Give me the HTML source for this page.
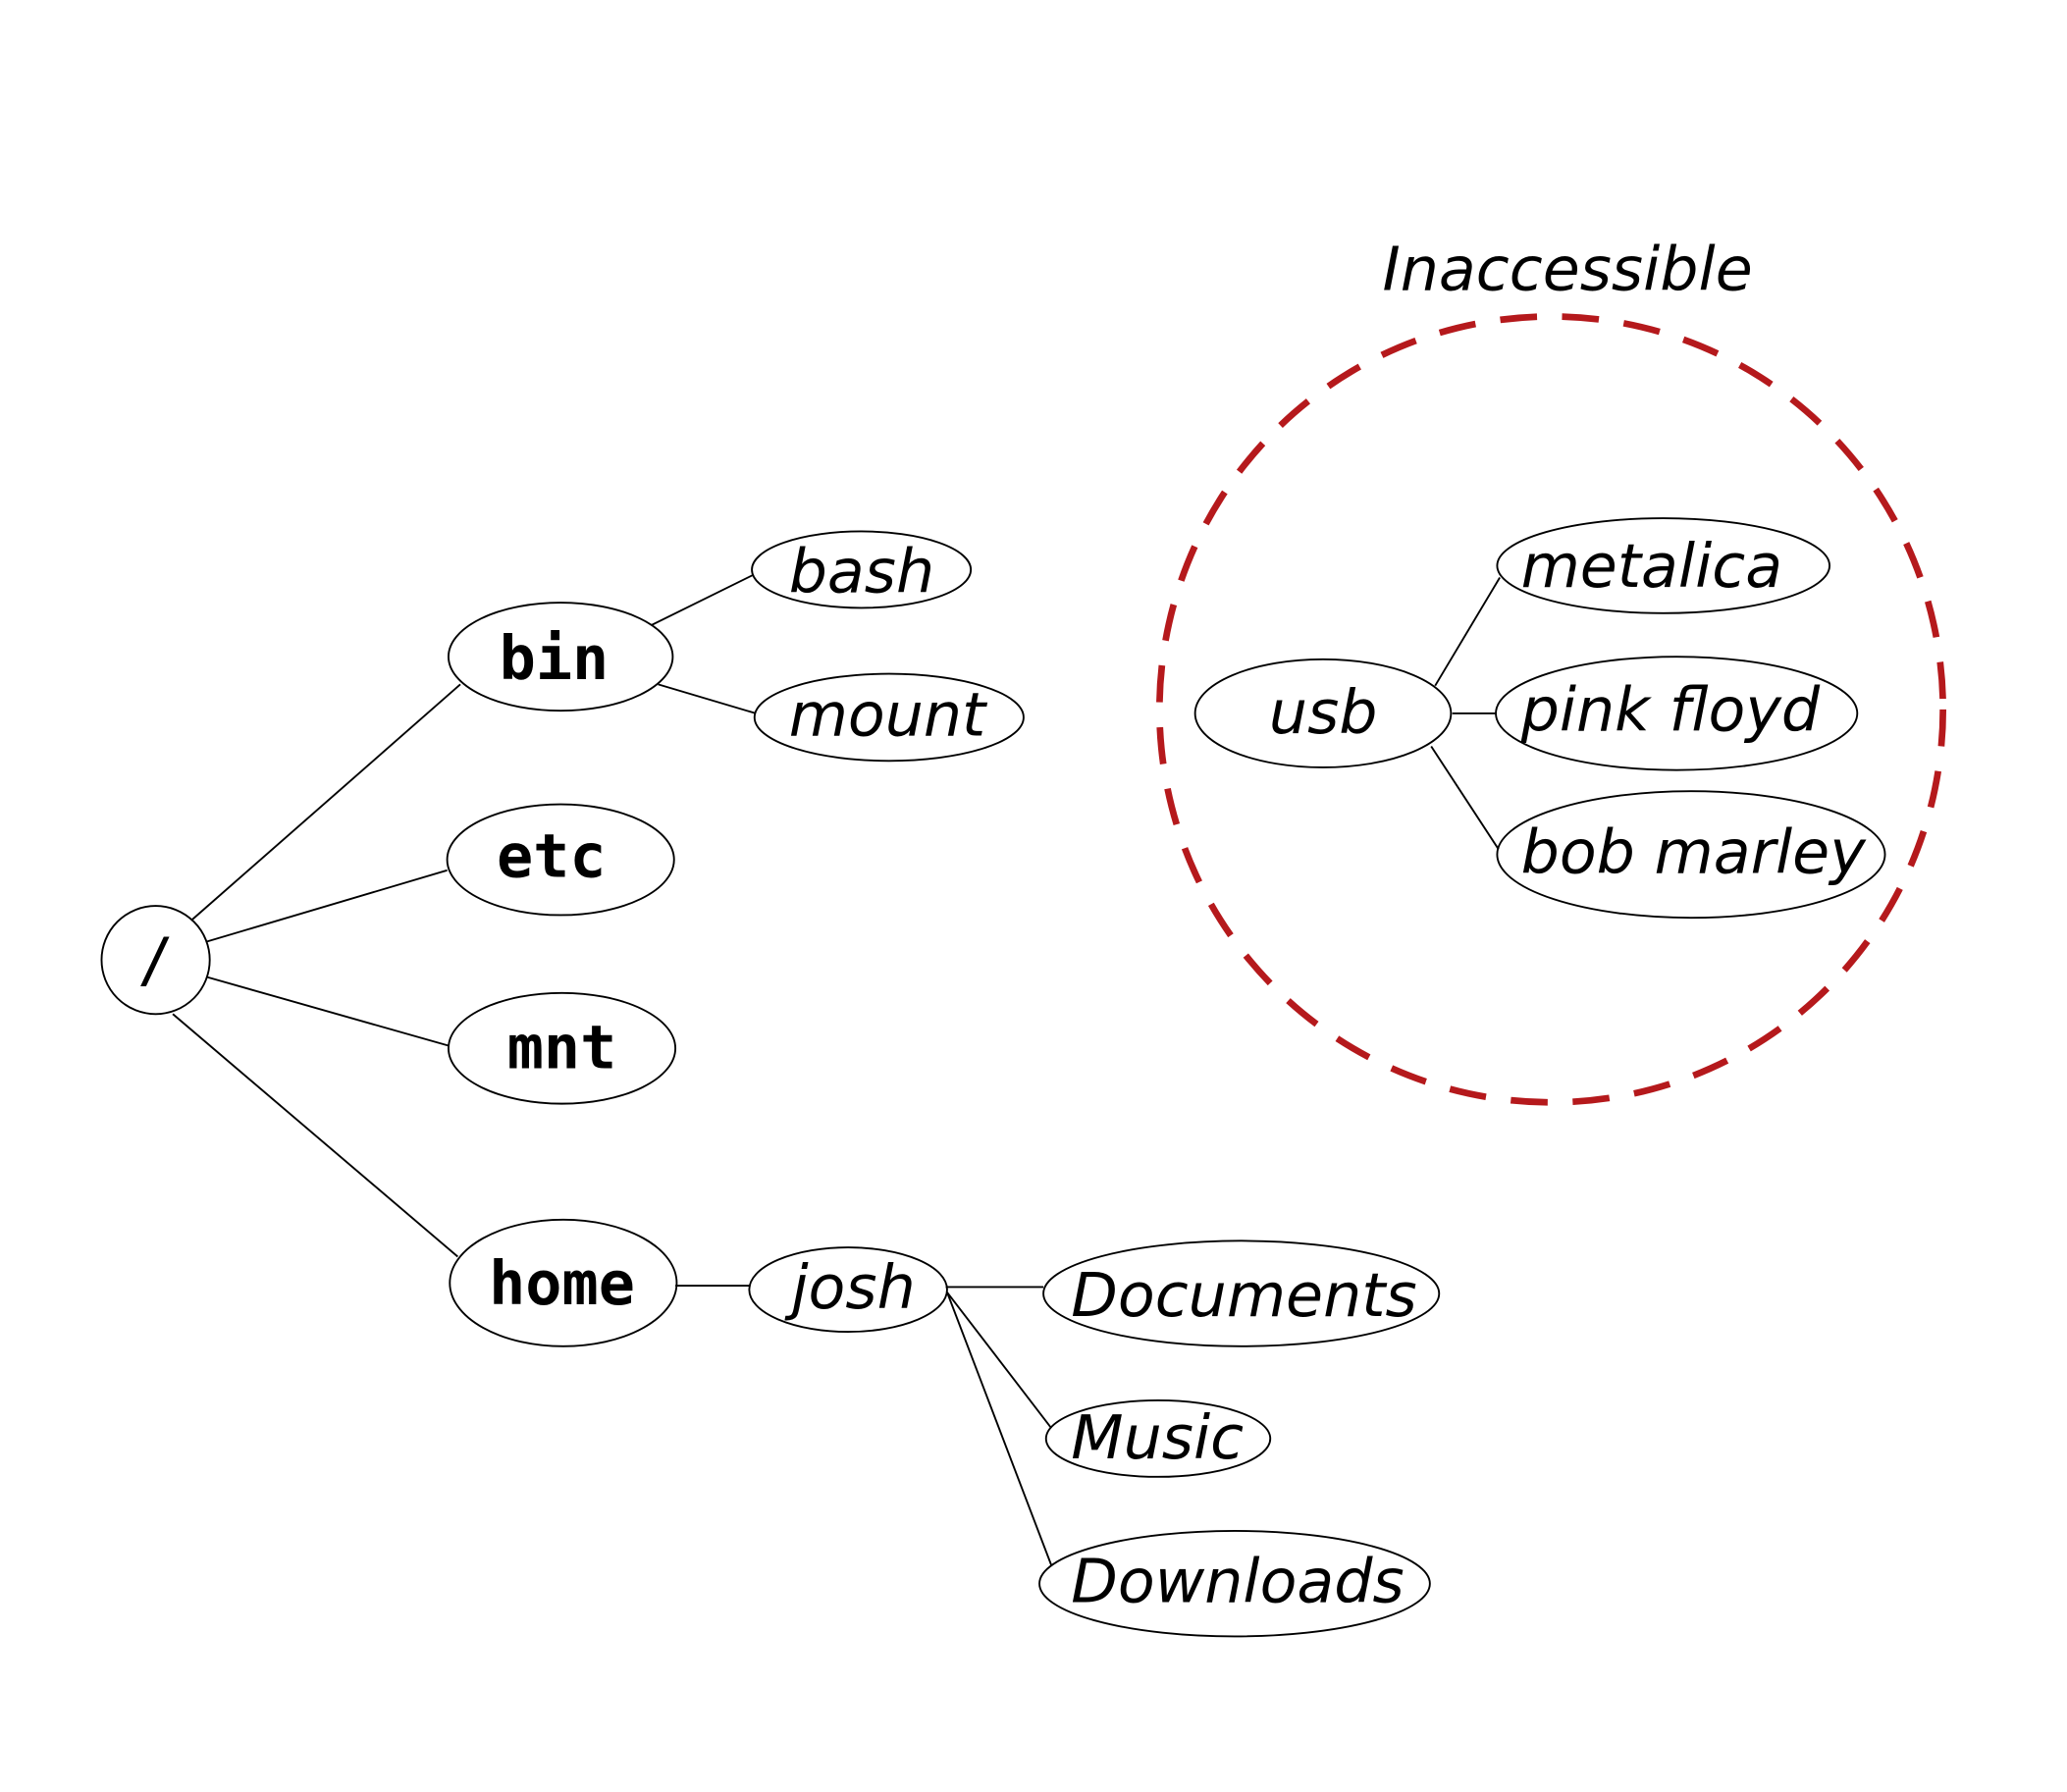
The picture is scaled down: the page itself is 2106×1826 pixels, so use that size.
<!DOCTYPE html>
<html><head><meta charset="utf-8"><style>html,body{margin:0;padding:0;background:#fff}svg{display:block}</style></head>
<body>
<svg width="2106" height="1826" viewBox="0 0 1567 1359" preserveAspectRatio="none" xmlns="http://www.w3.org/2000/svg">
<rect width="1567" height="1359" fill="#fff"/>
<g stroke="#000" stroke-width="1.4" fill="none">
<line x1="145" y1="698" x2="349" y2="519"/>
<line x1="157" y1="714" x2="339" y2="660"/>
<line x1="157" y1="741" x2="340" y2="793"/>
<line x1="131" y1="769" x2="347" y2="953"/>
<line x1="494" y1="474" x2="571" y2="436"/>
<line x1="499" y1="519" x2="573" y2="541"/>
<line x1="512" y1="975" x2="569" y2="975"/>
<line x1="717" y1="976" x2="791" y2="976"/>
<line x1="718" y1="980" x2="797" y2="1083"/>
<line x1="718" y1="980" x2="797" y2="1187"/>
<line x1="1088" y1="520" x2="1137" y2="438"/>
<line x1="1101" y1="541" x2="1134" y2="541"/>
<line x1="1085" y1="566" x2="1136" y2="644"/>
<circle cx="118" cy="728" r="41"/>
<ellipse cx="425" cy="498" rx="85" ry="41"/>
<ellipse cx="425" cy="652" rx="86" ry="42"/>
<ellipse cx="426" cy="795" rx="86" ry="42"/>
<ellipse cx="427" cy="973" rx="86" ry="48"/>
<ellipse cx="653" cy="432" rx="83" ry="29"/>
<ellipse cx="674" cy="544" rx="102" ry="33"/>
<ellipse cx="643" cy="978" rx="75" ry="32"/>
<ellipse cx="941" cy="981" rx="150" ry="40"/>
<ellipse cx="878" cy="1091" rx="85" ry="29"/>
<ellipse cx="936" cy="1201" rx="148" ry="40"/>
<ellipse cx="1003" cy="541" rx="97" ry="41"/>
<ellipse cx="1261" cy="429" rx="126" ry="36"/>
<ellipse cx="1271" cy="541" rx="137" ry="43"/>
<ellipse cx="1282" cy="648" rx="147" ry="48"/>
</g>
<ellipse cx="1176" cy="538" rx="297" ry="298" fill="none" stroke="#b5191c" stroke-width="5" stroke-dasharray="28 19"/>
<g font-family="'DejaVu Sans Mono','Liberation Mono',monospace" font-weight="bold" font-size="46" text-anchor="middle" fill="#000">
<text x="118" y="744" font-weight="normal">/</text>
<text x="420" y="515">bin</text>
<text x="418" y="665">etc</text>
<text x="426" y="810">mnt</text>
<text x="426" y="989">home</text>
</g>
<g font-family="'DejaVu Sans','Liberation Sans',sans-serif" font-style="italic" font-size="46" fill="#000">
<text x="598" y="449">bash</text>
<text x="598" y="558">mount</text>
<text x="600" y="992">josh</text>
<text x="812" y="998">Documents</text>
<text x="812" y="1106">Music</text>
<text x="812" y="1215">Downloads</text>
<text x="962" y="556">usb</text>
<text x="1153" y="445">metalica</text>
<text x="1153" y="554">pink floyd</text>
<text x="1153" y="662">bob marley</text>
<text x="1048" y="220">Inaccessible</text>
</g>
</svg>
</body></html>
